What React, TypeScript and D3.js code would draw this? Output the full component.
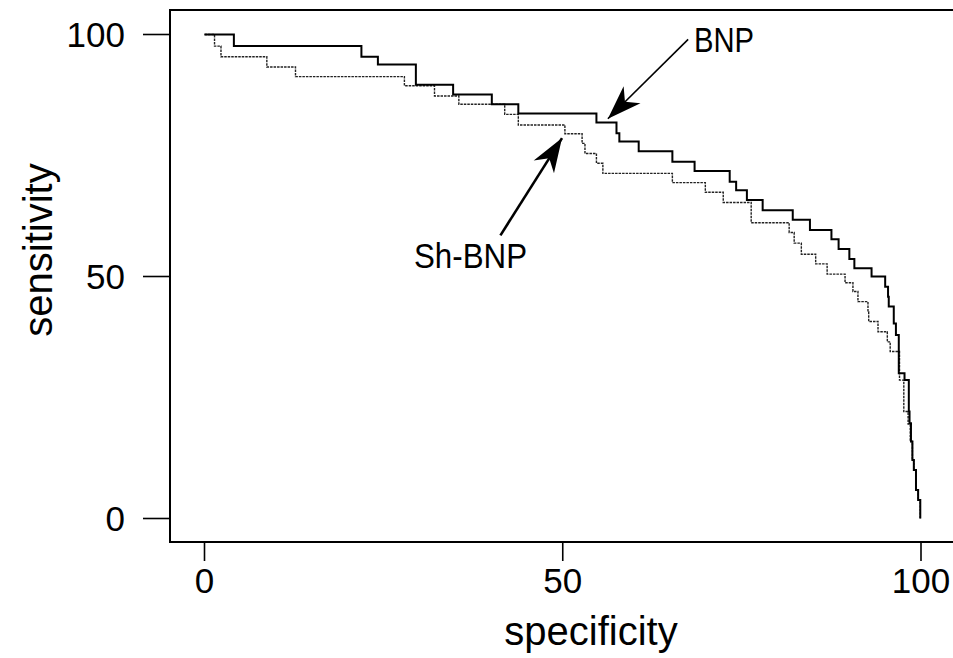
import React from "react";
import * as d3 from "d3";

// BNP (solid) ROC step points: [specificity where the drop happens, new sensitivity]
const bnpSpec = [0, 4.1, 21.9, 24.2, 29.5, 34.7, 40.1, 43.8, 54.7, 57.5, 57.9, 60.6, 65.3, 68.4, 73.3, 74.2, 75.7, 77.9, 82.1, 84.5, 87.5, 88.5, 90.0, 90.7, 93.1, 95.0, 95.4, 95.5, 96.2, 96.5, 96.9, 97.7, 98.3, 98.4, 98.6, 98.8, 99.0, 99.3, 99.6, 99.9];
const bnpSens = [100, 97.6, 95.4, 93.8, 89.6, 87.6, 85.6, 83.7, 81.8, 79.6, 77.9, 75.9, 73.7, 71.8, 69.6, 67.8, 65.8, 63.7, 61.7, 59.6, 57.7, 55.7, 53.6, 51.7, 50.0, 47.9, 45.8, 43.8, 40.3, 37.9, 30.0, 28.6, 22.1, 19.7, 15.9, 12.1, 10.0, 5.9, 3.8, 0];

// Sh-BNP (dotted) ROC step points
const shSpec = [0, 1.4, 2.3, 8.7, 12.7, 27.9, 32.1, 35.5, 41.9, 43.8, 50.3, 52.7, 53.1, 54.7, 55.6, 65.3, 69.9, 72.4, 76.3, 81.6, 82.3, 83.3, 85.3, 86.9, 89.4, 90.5, 91.2, 92.6, 92.7, 94.0, 95.3, 95.7, 97.0, 97.6, 98.2, 98.5, 98.8, 99.0, 99.3, 99.6, 99.9];
const shSens = [100, 97.6, 95.4, 93.3, 91.3, 89.4, 87.3, 85.6, 83.5, 81.3, 79.5, 77.5, 75.4, 73.4, 71.3, 69.4, 67.4, 65.3, 61.1, 59.1, 56.9, 54.6, 52.6, 50.5, 48.7, 46.9, 44.8, 42.7, 40.7, 38.6, 36.5, 34.5, 28.6, 22.1, 19.5, 15.9, 12.1, 10.0, 5.9, 3.8, 0];

const xTicks = [0, 50, 100];
const yTicks = [0, 50, 100];

// annotations: label, arrow start (data coords), arrow tip (data coords)
const annLabels = ["BNP", "Sh-BNP"];
const annFrom = [[67.5, 99.0], [41.3, 58.5]];
const annTo = [[56.3, 82.6], [49.9, 78.6]];

const W = 953;
const H = 658;
const FONT = "'Liberation Sans', Arial, Helvetica, sans-serif";

export default function App() {
  const x = d3.scaleLinear().domain([0, 100]).range([204.5, 921]);
  const y = d3.scaleLinear().domain([0, 100]).range([518.5, 34.5]);

  const frameL = 170;
  const frameT = 10;
  const frameB = 542;
  const frameR = 1012;

  const line = d3
    .line<[number, number]>()
    .x((d) => x(d[0]))
    .y((d) => y(d[1]))
    .curve(d3.curveStepAfter);

  const bnp: [number, number][] = bnpSpec.map((s, i) => [s, bnpSens[i]]);
  const sh: [number, number][] = shSpec.map((s, i) => [s, shSens[i]]);

  const arrowHead = (fx: number, fy: number, tx: number, ty: number) => {
    const dx = tx - fx;
    const dy = ty - fy;
    const len = Math.sqrt(dx * dx + dy * dy);
    const ux = dx / len;
    const uy = dy / len;
    const px = -uy;
    const py = ux;
    const L = 34;
    const Wd = 12;
    const notch = 24;
    const bx = tx - ux * L;
    const by = ty - uy * L;
    const nx = tx - ux * notch;
    const ny = ty - uy * notch;
    return `M${tx},${ty} L${bx + px * Wd},${by + py * Wd} L${nx},${ny} L${bx - px * Wd},${by - py * Wd} Z`;
  };

  return (
    <svg
      width={W}
      height={H}
      style={{ position: "absolute", left: 0, top: 0, background: "#fff" }}
      fontFamily={FONT}
    >
      <rect x={0} y={0} width={W} height={H} fill="#fff" />
      {/* frame */}
      <path
        d={`M${frameR},${frameT} L${frameL},${frameT} L${frameL},${frameB} L${frameR},${frameB}`}
        fill="none"
        stroke="#000"
        strokeWidth={2}
      />
      {/* y ticks */}
      {yTicks.map((t) => (
        <g key={"y" + t}>
          <line x1={143} x2={frameL} y1={y(t)} y2={y(t)} stroke="#000" strokeWidth={1.6} />
          <text x={125} y={y(t)} dy="0.36em" textAnchor="end" fontSize={35} fill="#000">
            {t}
          </text>
        </g>
      ))}
      {/* x ticks */}
      {xTicks.map((t) => (
        <g key={"x" + t}>
          <line x1={x(t)} x2={x(t)} y1={frameB} y2={561} stroke="#000" strokeWidth={1.6} />
          <text x={x(t)} y={593} textAnchor="middle" fontSize={35} fill="#000">
            {t}
          </text>
        </g>
      ))}
      {/* axis titles */}
      <text x={591} y={645} textAnchor="middle" fontSize={40} fill="#000">
        specificity
      </text>
      <text
        transform={`translate(52,${250}) rotate(-90)`}
        textAnchor="middle"
        fontSize={40}
        fill="#000"
      >
        sensitivity
      </text>
      {/* curves */}
      <path d={line(sh) || ""} fill="none" stroke="#222" strokeWidth={1.4} strokeDasharray="2.5 1" />
      <path d={line(bnp) || ""} fill="none" stroke="#000" strokeWidth={2} />
      {/* annotations */}
      {annLabels.map((lab, i) => {
        const fx = x(annFrom[i][0]);
        const fy = y(annFrom[i][1]);
        const tx = x(annTo[i][0]);
        const ty = y(annTo[i][1]);
        return (
          <g key={lab}>
            <line x1={fx} y1={fy} x2={tx} y2={ty} stroke="#000" strokeWidth={i === 0 ? 1.6 : 2.6} />
            <path d={arrowHead(fx, fy, tx, ty)} fill="#000" />
          </g>
        );
      })}
      <text x={694} y={52} fontSize={35} fill="#000" textLength={60} lengthAdjust="spacingAndGlyphs">
        BNP
      </text>
      <text x={414} y={268} fontSize={35} fill="#000" textLength={113} lengthAdjust="spacingAndGlyphs">
        Sh-BNP
      </text>
    </svg>
  );
}
